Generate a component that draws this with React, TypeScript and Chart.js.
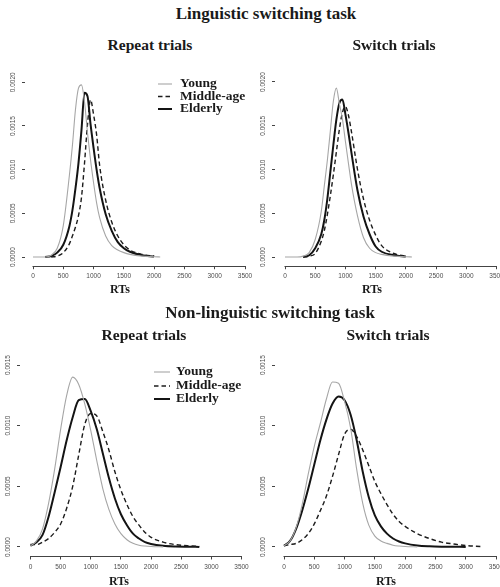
import React, { useEffect, useRef } from "react";
import { Chart, registerables } from "chart.js";

Chart.register(...registerables);

// ---------- data ----------
const groupLabels = ["Young", "Middle-age", "Elderly"];
const xTickValues = [0, 500, 1000, 1500, 2000, 2500, 3000, 3500];
const topDensityTicks = [0, 0.0005, 0.001, 0.0015, 0.002];
const bottomDensityTicks = [0, 0.0005, 0.001, 0.0015];

// RT grid (ms) for the linguistic task panels
const topRT = [0, 200, 300, 400, 500, 600, 650, 700, 750, 800, 850, 900, 950, 1000, 1050, 1100, 1200, 1300, 1400, 1500, 1600, 1800, 2000, 2100];
// RT grid (ms) for the non-linguistic task panels
const bottomRT = [0, 100, 200, 300, 400, 500, 600, 700, 800, 900, 1000, 1100, 1200, 1300, 1400, 1500, 1600, 1700, 1800, 1900, 2000, 2200, 2400, 2600, 2800, 3000, 3250];

// Linguistic switching task – repeat trials
const lingRepeatYoung = [0, 0, 0.00002, 0.0001, 0.00036, 0.00093, 0.00127, 0.00168, 0.00193, 0.00197, 0.00178, 0.00142, 0.00111, 0.00085, 0.00062, 0.00045, 0.00024, 0.00013, 0.00008, 0.00005, 0.00003, 0.00001, 0.000003, 0];
const lingRepeatMiddle = [null, null, 0, 0.00001, 0.00005, 0.00015, 0.00024, 0.00034, 0.00047, 0.00068, 0.00107, 0.00152, 0.0018, 0.00163, 0.0014, 0.00105, 0.00065, 0.0004, 0.00024, 0.00014, 0.00008, 0.00003, 0.00001, null];
const lingRepeatElderly = [null, 0, 0.00001, 0.00005, 0.00014, 0.00035, 0.00053, 0.00078, 0.00107, 0.00145, 0.00188, 0.00184, 0.00152, 0.00125, 0.001, 0.00079, 0.00049, 0.0003, 0.00017, 0.0001, 0.00006, 0.00002, 0.000005, null];

// Linguistic switching task – switch trials
const lingSwitchYoung = [0, 0, 0.00001, 0.00005, 0.0002, 0.00052, 0.00081, 0.0011, 0.00144, 0.00178, 0.00193, 0.00175, 0.00158, 0.00132, 0.00107, 0.00083, 0.00047, 0.00022, 0.0001, 0.00005, 0.00003, 0.00001, 0.000003, 0];
const lingSwitchMiddle = [null, null, 0, 0.00001, 0.00004, 0.00018, 0.0003, 0.00048, 0.0007, 0.00094, 0.0012, 0.00146, 0.00165, 0.00172, 0.00162, 0.00143, 0.001, 0.00066, 0.00042, 0.00025, 0.00013, 0.00004, 0.00001, null];
const lingSwitchElderly = [null, null, 0, 0.00002, 0.0001, 0.00026, 0.00042, 0.00066, 0.00097, 0.00128, 0.00157, 0.00176, 0.0018, 0.00163, 0.00142, 0.00119, 0.00076, 0.00046, 0.00026, 0.00012, 0.00006, 0.00002, 0.000005, null];

// Non-linguistic switching task – repeat trials
const nonLingRepeatYoung = [0.00001, 0.00005, 0.00015, 0.00036, 0.00064, 0.00097, 0.00125, 0.0014, 0.00134, 0.00118, 0.00096, 0.00071, 0.00048, 0.00031, 0.00019, 0.00011, 0.00006, 0.00003, 0.000015, 0.000008, 0.000004, 0.000001, null, null, null, null, null];
const nonLingRepeatMiddle = [0.00002, 0.00002, 0.00004, 0.00007, 0.00012, 0.00019, 0.00032, 0.0005, 0.00076, 0.00101, 0.0011, 0.00108, 0.00095, 0.0008, 0.00062, 0.00047, 0.00035, 0.00025, 0.00018, 0.00012, 0.00008, 0.00004, 0.00002, 0.00001, 0.000005, null, null];
const nonLingRepeatElderly = [0.00001, 0.00004, 0.0001, 0.00025, 0.00045, 0.00066, 0.00088, 0.00107, 0.00121, 0.00122, 0.00112, 0.00097, 0.00077, 0.00057, 0.0004, 0.00027, 0.00018, 0.00011, 0.00007, 0.00004, 0.000025, 0.00001, 0.000004, 0.000002, 0.000001, null, null];

// Non-linguistic switching task – switch trials
const nonLingSwitchYoung = [0.00001, 0.00005, 0.00016, 0.00035, 0.0006, 0.00083, 0.00102, 0.00122, 0.00136, 0.00135, 0.0012, 0.00098, 0.00064, 0.00036, 0.00018, 0.00009, 0.00005, 0.00003, 0.000015, 0.000008, 0.000004, 0.000001, null, null, null, null, null];
const nonLingSwitchMiddle = [0.00001, 0.00002, 0.00003, 0.00006, 0.00011, 0.00019, 0.0003, 0.00042, 0.00058, 0.00076, 0.00093, 0.00097, 0.00091, 0.0008, 0.00067, 0.00054, 0.00044, 0.00035, 0.00027, 0.00021, 0.00017, 0.00011, 0.00007, 0.00004, 0.000025, 0.000012, 0.000004];
const nonLingSwitchElderly = [0.00001, 0.00005, 0.00015, 0.0003, 0.00048, 0.00068, 0.00088, 0.00105, 0.00118, 0.00124, 0.00121, 0.00109, 0.00088, 0.00062, 0.00041, 0.00026, 0.00017, 0.00011, 0.00007, 0.000045, 0.00003, 0.000013, 0.000006, 0.000003, 0.000002, 0.000001, null];

// ---------- styles ----------
const SERIES_STYLE = [
  { borderColor: "#a6a6a6", borderWidth: 1.1, borderDash: [] as number[] },
  { borderColor: "#1c1c1c", borderWidth: 1.4, borderDash: [4.5, 3] },
  { borderColor: "#141414", borderWidth: 2, borderDash: [] as number[] },
];
const TICK_FONT = { family: "'Liberation Sans', Arial, sans-serif", size: 6.5 };
const TICK_COLOR = "#4d4d4d";
const SERIF = "'Liberation Serif', 'Times New Roman', serif";
const Y_LABEL_OFFSET = 12; // distance from y axis to centre of its rotated labels
const Y_TICK_LEN = 3;

type LegendCfg = { lineX0: number; lineX1: number; textX: number; rows: number[] };
type PanelCfg = {
  grid: number[];
  series: (number | null)[][];
  yTicks: number[];
  x0: number;
  x3500: number;
  axisLeft: number;
  yZero: number;
  yRef: number;
  yRefVal: number;
  yMin: number;
  yMax: number;
  legend?: LegendCfg;
};

function computeLayout(cfg: PanelCfg) {
  const kx = (cfg.x3500 - cfg.x0) / 3500;
  const xMin = -(cfg.x0 - cfg.axisLeft) / kx;
  const chartRight = cfg.x3500 + 8;
  const xMax = 3500 + 8 / kx;
  const ky = (cfg.yZero - cfg.yRef) / cfg.yRefVal;
  const chartBottom = cfg.yZero - cfg.yMin * ky;
  const chartTop = cfg.yZero - cfg.yMax * ky;
  const cl = Math.floor(cfg.axisLeft - 30);
  const ct = Math.floor(chartTop - 12);
  const yAxisW = cfg.axisLeft - cl;
  const padTop = chartTop - ct;
  const cw = Math.ceil(chartRight - cl + 22);
  const padRight = cw - (chartRight - cl);
  const ch = Math.ceil(chartBottom - ct + 30);
  const xAxisH = ch - (chartBottom - ct);
  return { xMin, xMax, cl, ct, cw, ch, yAxisW, padTop, padRight, xAxisH };
}

const xAxisLinePlugin = {
  id: "xAxisLine",
  afterDraw(chart: any) {
    const s = chart.scales.x;
    const ctx = chart.ctx;
    const y = Math.round(s.top) + 0.5;
    ctx.save();
    ctx.strokeStyle = "#444";
    ctx.lineWidth = 1;
    ctx.beginPath();
    ctx.moveTo(s.getPixelForValue(xTickValues[0]) - 0.5, y);
    ctx.lineTo(s.getPixelForValue(xTickValues[xTickValues.length - 1]) + 0.5, y);
    ctx.stroke();
    ctx.restore();
  },
};

function makeLegendPlugin(legend: LegendCfg | undefined, offX: number, offY: number) {
  return {
    id: "rLegend",
    afterDraw(chart: any) {
      if (!legend) return;
      const ctx = chart.ctx;
      chart.data.datasets.forEach((ds: any, i: number) => {
        const y = legend.rows[i] - offY;
        ctx.save();
        ctx.strokeStyle = ds.borderColor;
        ctx.lineWidth = ds.borderWidth;
        ctx.setLineDash(ds.borderDash || []);
        ctx.beginPath();
        ctx.moveTo(legend.lineX0 - offX, y);
        ctx.lineTo(legend.lineX1 - offX, y);
        ctx.stroke();
        ctx.setLineDash([]);
        ctx.fillStyle = "#1a1a1a";
        ctx.font = `bold 13.5px ${SERIF}`;
        ctx.textBaseline = "middle";
        ctx.textAlign = "left";
        ctx.fillText(ds.label, legend.textX - offX, y);
        ctx.restore();
      });
    },
  };
}

function DensityPanel({ cfg }: { cfg: PanelCfg }) {
  const ref = useRef<HTMLCanvasElement>(null);
  const L = computeLayout(cfg);

  useEffect(() => {
    const canvas = ref.current!;
    const datasets = cfg.series.map((vals, i) => ({
      label: groupLabels[i],
      data: cfg.grid.map((x, j) => ({ x, y: vals[j] })),
      ...SERIES_STYLE[i],
      pointRadius: 0,
      fill: false,
      cubicInterpolationMode: "monotone" as const,
      spanGaps: false,
    }));
    // measure the widest y label so the rotated labels sit a fixed distance from the axis
    const mctx = canvas.getContext("2d")!;
    mctx.font = `${TICK_FONT.size}px ${TICK_FONT.family}`;
    const widest = Math.max(...cfg.yTicks.map((v) => mctx.measureText(v.toFixed(4)).width));
    const yPad = Y_LABEL_OFFSET - Y_TICK_LEN - widest / 2;

    const chart = new Chart(canvas, {
      type: "line",
      data: { datasets: datasets as any },
      options: {
        responsive: false,
        maintainAspectRatio: false,
        animation: false,
        events: [],
        layout: { padding: { left: 0, top: L.padTop, right: L.padRight, bottom: 0 } },
        plugins: { legend: { display: false }, tooltip: { enabled: false }, title: { display: false } },
        scales: {
          x: {
            type: "linear",
            min: L.xMin,
            max: L.xMax,
            afterBuildTicks: (s: any) => {
              s.ticks = xTickValues.map((v) => ({ value: v }));
            },
            afterFit: (s: any) => {
              s.height = L.xAxisH;
            },
            grid: { display: true, drawOnChartArea: false, drawTicks: true, tickLength: 3.5, color: "#444", lineWidth: 1 },
            border: { display: false },
            ticks: {
              autoSkip: false,
              maxRotation: 0,
              minRotation: 0,
              padding: 3.5,
              color: TICK_COLOR,
              font: TICK_FONT,
              callback: (v: any) => String(v),
            },
          },
          y: {
            type: "linear",
            min: cfg.yMin,
            max: cfg.yMax,
            afterBuildTicks: (s: any) => {
              s.ticks = cfg.yTicks.map((v) => ({ value: v }));
            },
            afterFit: (s: any) => {
              s.width = L.yAxisW;
            },
            grid: { display: true, drawOnChartArea: false, drawTicks: true, tickLength: Y_TICK_LEN, color: "#444", lineWidth: 1 },
            border: { display: false },
            ticks: {
              minRotation: 90,
              maxRotation: 90,
              crossAlign: "center",
              padding: yPad,
              color: TICK_COLOR,
              font: TICK_FONT,
              callback: (v: any) => Number(v).toFixed(4),
            },
          },
        } as any,
      },
      plugins: [xAxisLinePlugin, makeLegendPlugin(cfg.legend, L.cl, L.ct)],
    });
    return () => chart.destroy();
  }, []);

  return (
    <canvas
      ref={ref}
      width={L.cw}
      height={L.ch}
      style={{ position: "absolute", left: L.cl, top: L.ct, width: L.cw, height: L.ch }}
    />
  );
}

const panels: PanelCfg[] = [
  {
    grid: topRT,
    series: [lingRepeatYoung, lingRepeatMiddle, lingRepeatElderly],
    yTicks: topDensityTicks,
    x0: 33, x3500: 245, axisLeft: 25,
    yZero: 257, yRef: 82.3, yRefVal: 0.002, yMin: -0.0001, yMax: 0.00205,
    legend: { lineX0: 158, lineX1: 172, textX: 180, rows: [84, 96.5, 109] },
  },
  {
    grid: topRT,
    series: [lingSwitchYoung, lingSwitchMiddle, lingSwitchElderly],
    yTicks: topDensityTicks,
    x0: 285, x3500: 496.5, axisLeft: 275,
    yZero: 257, yRef: 82, yRefVal: 0.002, yMin: -0.0001, yMax: 0.00205,
  },
  {
    grid: bottomRT,
    series: [nonLingRepeatYoung, nonLingRepeatMiddle, nonLingRepeatElderly],
    yTicks: bottomDensityTicks,
    x0: 30.5, x3500: 241.5, axisLeft: 20,
    yZero: 547, yRef: 365, yRefVal: 0.0015, yMin: -0.000074, yMax: 0.0016,
    legend: { lineX0: 154, lineX1: 170, textX: 176, rows: [372, 386, 399] },
  },
  {
    grid: bottomRT,
    series: [nonLingSwitchYoung, nonLingSwitchMiddle, nonLingSwitchElderly],
    yTicks: bottomDensityTicks,
    x0: 284, x3500: 496, axisLeft: 275,
    yZero: 547, yRef: 365, yRefVal: 0.0015, yMin: -0.000074, yMax: 0.0016,
  },
];

const titles = [
  { text: "Linguistic switching task", x: 266, y: 13, size: 17 },
  { text: "Repeat trials", x: 150, y: 45, size: 15.5 },
  { text: "Switch trials", x: 394, y: 45, size: 15.5 },
  { text: "RTs", x: 120, y: 289, size: 12 },
  { text: "RTs", x: 372, y: 289, size: 12 },
  { text: "Non-linguistic switching task", x: 270, y: 312, size: 17 },
  { text: "Repeat trials", x: 144, y: 335, size: 15.5 },
  { text: "Switch trials", x: 388, y: 335, size: 15.5 },
  { text: "RTs", x: 119, y: 580.5, size: 12 },
  { text: "RTs", x: 386, y: 580.5, size: 12 },
];

export default function App() {
  return (
    <div
      style={{
        position: "fixed",
        left: 0,
        top: 0,
        width: 500,
        height: 587,
        overflow: "hidden",
        background: "#ffffff",
      }}
    >
      {panels.map((p, i) => (
        <DensityPanel key={i} cfg={p} />
      ))}
      {titles.map((t, i) => (
        <div
          key={"t" + i}
          style={{
            position: "absolute",
            left: t.x,
            top: t.y,
            transform: "translate(-50%, -50%)",
            fontFamily: SERIF,
            fontWeight: "bold",
            fontSize: t.size,
            lineHeight: 1,
            whiteSpace: "nowrap",
            color: "#1a1a1a",
          }}
        >
          {t.text}
        </div>
      ))}
    </div>
  );
}
